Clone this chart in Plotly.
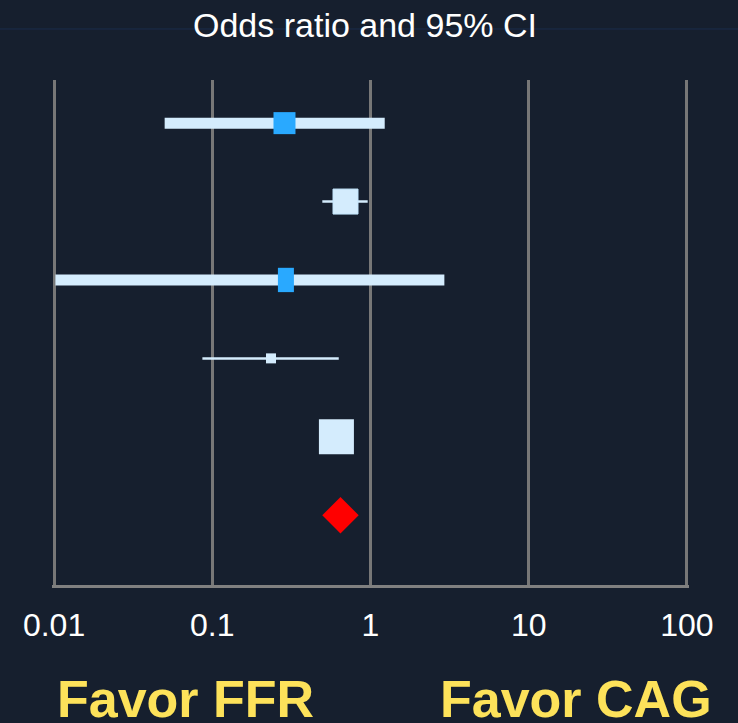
import plotly.graph_objects as go

# Forest plot data (odds ratio and 95% CI), top row first
rows = [1, 2, 3, 4, 5, 6]
odds_ratio = [0.286, 0.695, 0.292, 0.235, 0.609, 0.646]
ci_low = [0.05, 0.496, 0.0102, 0.0866, 0.52, None]
ci_high = [1.23, 0.96, 2.93, 0.63, 0.72, None]

tick_vals = [0.01, 0.1, 1, 10, 100]
tick_text = ["0.01", "0.1", "1", "10", "100"]

BG = "#161f2e"
LIGHT = "#d4ecfd"
BLUE = "#29a9ff"
GRID = "#777777"

fig = go.Figure()

# confidence interval bars (thick for rows 1 and 3, thin otherwise)
ci_widths = [11, 2.5, 11, 2.5, 2.5]
for i in range(5):
    fig.add_trace(go.Scatter(
        x=[ci_low[i], ci_high[i]], y=[rows[i], rows[i]],
        mode="lines", line=dict(color=LIGHT, width=ci_widths[i]),
        showlegend=False, hoverinfo="skip"
    ))

# point estimates
fig.add_trace(go.Scatter(
    x=[odds_ratio[0]], y=[rows[0]], mode="markers",
    marker=dict(symbol="square", size=22, color=BLUE),
    showlegend=False
))
fig.add_trace(go.Scatter(
    x=[odds_ratio[1]], y=[rows[1]], mode="markers",
    marker=dict(symbol="square", size=25, color=LIGHT,
                line=dict(color="#c4e6fd", width=1)),
    showlegend=False
))
# row 3 box is taller than wide -> draw as a thick vertical stroke
half_h = 0.155
fig.add_trace(go.Scatter(
    x=[odds_ratio[2], odds_ratio[2]], y=[rows[2] - half_h, rows[2] + half_h],
    mode="lines", line=dict(color=BLUE, width=16),
    showlegend=False
))
fig.add_trace(go.Scatter(
    x=[odds_ratio[3]], y=[rows[3]], mode="markers",
    marker=dict(symbol="square", size=10, color=LIGHT),
    showlegend=False
))
fig.add_trace(go.Scatter(
    x=[odds_ratio[4]], y=[rows[4]], mode="markers",
    marker=dict(symbol="square", size=35, color=LIGHT),
    showlegend=False
))
# pooled estimate
fig.add_trace(go.Scatter(
    x=[odds_ratio[5]], y=[rows[5]], mode="markers",
    marker=dict(symbol="diamond", size=28, color="#ff0000"),
    showlegend=False
))

# range padded a little so the edge gridlines at 0.01 and 100 are kept
fig.update_xaxes(
    type="log", range=[-2.013, 2.013],
    tickvals=tick_vals, ticktext=tick_text,
    showgrid=True, gridcolor=GRID, gridwidth=2.5,
    showline=True, linecolor="#808080", linewidth=3,
    ticks="", ticklabelstandoff=10,
    tickfont=dict(family="Liberation Sans, Arial", size=32, color="white"),
    zeroline=False
)
fig.update_yaxes(
    range=[6.89, 0.45], visible=False, showgrid=False, zeroline=False
)

# faint line behind the title
fig.add_shape(type="line", xref="paper", yref="paper",
              x0=-0.09, x1=1.09, y0=1.101, y1=1.101,
              line=dict(color="#1b2d4d", width=1), layer="below")

fig.add_annotation(text="Odds ratio and 95% CI", xref="paper", yref="paper",
                   x=0.491, y=1.109, showarrow=False,
                   xanchor="center", yanchor="middle",
                   font=dict(family="Liberation Sans, Arial", size=34, color="white"))
fig.add_annotation(text="<b>Favor FFR</b>", xref="paper", yref="paper",
                   x=(185 - 52) / 637, y=-0.226, showarrow=False,
                   xanchor="center", yanchor="middle",
                   font=dict(family="Liberation Sans, Arial", size=52, color="#fde25a"))
fig.add_annotation(text="<b>Favor CAG</b>", xref="paper", yref="paper",
                   x=(576 - 52) / 637, y=-0.226, showarrow=False,
                   xanchor="center", yanchor="middle",
                   font=dict(family="Liberation Sans, Arial", size=52, color="#fde25a"))

fig.update_layout(
    width=738, height=723,
    margin=dict(l=52, r=49, t=80, b=138),
    paper_bgcolor=BG, plot_bgcolor=BG,
    showlegend=False
)

fig.write_html("out.html",
               config={"displayModeBar": False},
               post_script="document.body.style.margin='0';"
                           "document.body.style.background='#161f2e';")
